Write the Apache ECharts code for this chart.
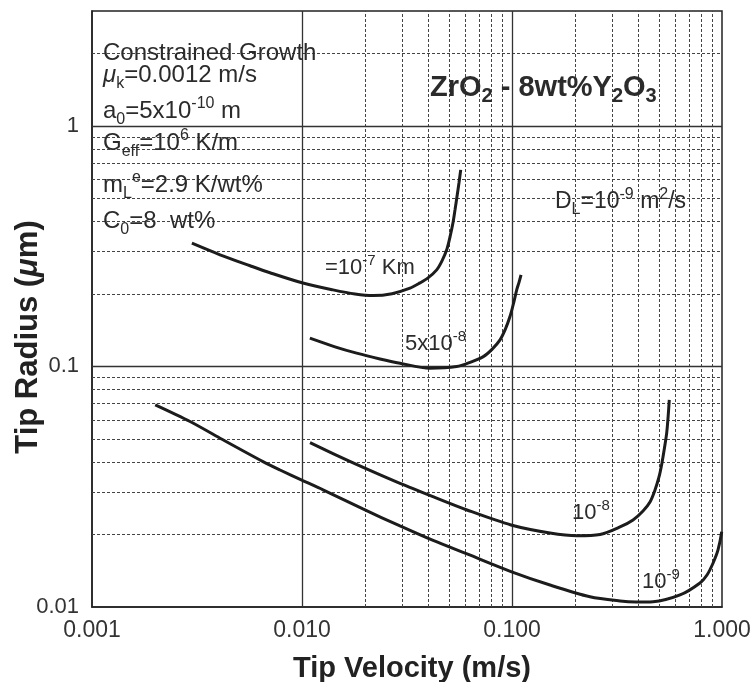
<!DOCTYPE html>
<html><head><meta charset="utf-8">
<script src="https://cdn.jsdelivr.net/npm/echarts@6/dist/echarts.min.js"></script>
<style>html,body{margin:0;padding:0;background:#fff}#c{width:753px;height:682px}</style>
</head><body><div id="c"></div>
<script>
// ---- data (tip velocity m/s, tip radius µm) ----
const v_1e7 = [0.00299, 0.00407, 0.00566, 0.00704, 0.0101, 0.01405, 0.01788, 0.0218, 0.02683, 0.03268, 0.03648, 0.03981, 0.04379, 0.04642, 0.04887, 0.05068, 0.05236, 0.05354, 0.05471, 0.05592, 0.05698];
const r_1e7 = [0.325, 0.291, 0.262, 0.245, 0.222, 0.208, 0.200, 0.197, 0.2006, 0.2114, 0.2224, 0.2333, 0.2519, 0.2747, 0.3051, 0.3455, 0.3951, 0.4474, 0.5082, 0.5794, 0.6561];

const v_5e8 = [0.0109, 0.01436, 0.0182, 0.02351, 0.0293, 0.0407, 0.0545, 0.0631, 0.0730, 0.0803, 0.0877, 0.0931, 0.0978, 0.1017, 0.1053, 0.1080, 0.1104];
const r_5e8 = [0.131, 0.1206, 0.1135, 0.1074, 0.1031, 0.0983, 0.0998, 0.1039, 0.1098, 0.1177, 0.1289, 0.1432, 0.1611, 0.1828, 0.208, 0.2235, 0.2401];

const v_1e8 = [0.01092, 0.01517, 0.02107, 0.02929, 0.04205, 0.06105, 0.0989, 0.1517, 0.204, 0.2624, 0.3268, 0.377, 0.4206, 0.4541, 0.4797, 0.5012, 0.5178, 0.5322, 0.5454, 0.5543, 0.561];
const r_1e8 = [0.0482, 0.04204, 0.03694, 0.03263, 0.02874, 0.02531, 0.02193, 0.02031, 0.01979, 0.02002, 0.02151, 0.0230, 0.02507, 0.02733, 0.03066, 0.03471, 0.0397, 0.04584, 0.0529, 0.06225, 0.0726];

const v_1e9 = [0.0020, 0.00293, 0.00407, 0.00652, 0.00786, 0.0101, 0.01259, 0.0195, 0.02929, 0.0421, 0.0611, 0.0989, 0.1517, 0.2351, 0.3268, 0.3895, 0.4693, 0.631, 0.7855, 0.8483, 0.906, 0.9572, 0.9967];
const r_1e9 = [0.0692, 0.0590, 0.0503, 0.0402, 0.0371, 0.0335, 0.0307, 0.02556, 0.02172, 0.0189, 0.01661, 0.01404, 0.01234, 0.01103, 0.01059, 0.01049, 0.01052, 0.01122, 0.01259, 0.01358, 0.0152, 0.01726, 0.02056];

const xTickLabels = ['0.001', '0.010', '0.100', '1.000'];
const yTickLabels = ['0.01', '0.1', '1'];

const xMajorGrid = [0.01, 0.1];
const xMinorGrid = [0.002,0.003,0.004,0.005,0.006,0.007,0.008,0.009,
                    0.02,0.03,0.04,0.05,0.06,0.07,0.08,0.09,
                    0.2,0.3,0.4,0.5,0.6,0.7,0.8,0.9];
const yMajorGrid = [0.1, 1];
const yMinorGrid = [0.02,0.03,0.04,0.05,0.06,0.07,0.08,0.09,
                    0.2,0.3,0.4,0.5,0.6,0.7,0.8,0.9, 2];

// ---- helpers ----
const zip = (a, b) => a.map((x, i) => [x, b[i]]);
const FONT = 'Liberation Sans, Arial, Helvetica, sans-serif';
const TXT = '#2b2b2b';

function ann(text, x, baseline, size, bold) {
  const lh = size + 8;
  const s = Math.round(size * 0.68);
  const w = bold ? 'bold' : 'normal';
  return {
    type: 'text', x: x, y: baseline - (lh / 2 + 0.35 * size), z: 10, silent: true,
    style: {
      text: text, fontFamily: FONT, fontSize: size, fontWeight: w, fill: TXT,
      lineHeight: lh, verticalAlign: 'top', align: 'left',
      rich: {
        sub: { fontSize: s, lineHeight: s, verticalAlign: 'bottom', fontWeight: w, fontFamily: FONT, fill: TXT },
        sup: { fontSize: s, lineHeight: s, verticalAlign: 'top', fontWeight: w, fontFamily: FONT, fill: TXT },
        mu: { fontSize: size, lineHeight: lh, fontStyle: 'italic', fontFamily: FONT, fill: TXT }
      }
    }
  };
}

const gridLine = (arr, key, style) => arr.map(v => ({ [key]: v, lineStyle: style }));
const majorStyle = { color: '#333', width: 1.3, type: 'solid' };
const minorStyle = { color: '#444', width: 1, type: [3, 2] };

const curveStyle = { color: '#1c1c1c', width: 3 };
function curve(name, v, r) {
  return {
    name: name, type: 'line', data: zip(v, r), showSymbol: false, symbol: 'none',
    smooth: 0.3, lineStyle: curveStyle, z: 5, silent: true
  };
}

const chart = echarts.init(document.getElementById('c'), null, { renderer: 'canvas' });
chart.setOption({
  animation: false,
  backgroundColor: '#fff',
  grid: { left: 92, right: 31, top: 11, bottom: 75, outerBoundsMode: 'none', containLabel: false,
          show: true, borderColor: '#222', borderWidth: 1.5, backgroundColor: 'transparent' },
  xAxis: {
    type: 'log', logBase: 10, min: 0.001, max: 1,
    name: 'Tip Velocity (m/s)', nameLocation: 'middle', nameGap: 47, nameMoveOverlap: false,
    nameTextStyle: { fontFamily: FONT, fontSize: 29, fontWeight: 'bold', color: '#222', padding: [0, 0, 0, 10] },
    axisLine: { show: true, onZero: false, lineStyle: { color: '#222', width: 1.5 } },
    axisTick: { show: false }, splitLine: { show: false }, minorTick: { show: false },
    axisLabel: {
      fontFamily: FONT, fontSize: 23, color: '#333', margin: 12,
      showMinLabel: true, showMaxLabel: true,
      formatter: v => { const l = Math.log10(v), e = Math.round(l); return Math.abs(l - e) < 1e-6 ? (xTickLabels[e + 3] || '') : ''; }
    }
  },
  yAxis: {
    type: 'log', logBase: 10, min: 0.01, max: 3,
    name: 'Tip Radius ({mu|μ}m)', nameLocation: 'middle', nameGap: 48, nameMoveOverlap: false,
    nameTextStyle: { fontFamily: FONT, fontSize: 31, fontWeight: 'bold', color: '#222', padding: [0, 56, 0, 0],
      rich: { mu: { fontFamily: FONT, fontSize: 31, fontWeight: 'bold', fontStyle: 'italic', color: '#222' } } },
    axisLine: { show: true, onZero: false, lineStyle: { color: '#222', width: 1.5 } },
    axisTick: { show: false }, splitLine: { show: false }, minorTick: { show: false },
    axisLabel: {
      fontFamily: FONT, fontSize: 22, color: '#333', margin: 13,
      formatter: v => { const l = Math.log10(v), e = Math.round(l); return Math.abs(l - e) < 1e-6 ? (yTickLabels[e + 2] || '') : ''; }
    }
  },
  series: [
    {
      name: 'grid', type: 'line', data: [[0.001, 0.01]], symbol: 'none', silent: true, z: 1,
      lineStyle: { width: 0 },
      markLine: {
        silent: true, symbol: ['none', 'none'], label: { show: false }, animation: false,
        data: [].concat(
          gridLine(xMinorGrid, 'xAxis', minorStyle),
          gridLine(yMinorGrid, 'yAxis', minorStyle),
          gridLine(xMajorGrid, 'xAxis', majorStyle),
          gridLine(yMajorGrid, 'yAxis', majorStyle)
        )
      }
    },
    curve('=10^-7 Km', v_1e7, r_1e7),
    curve('5x10^-8', v_5e8, r_5e8),
    curve('10^-8', v_1e8, r_1e8),
    curve('10^-9', v_1e9, r_1e9)
  ],
  graphic: [
    ann('Constrained Growth', 103, 62, 24),
    ann('{mu|μ}{sub|k}=0.0012 m/s', 103, 84, 24),
    ann('a{sub|0}=5x10{sup|-10} m', 103, 120, 24),
    ann('G{sub|eff}=10{sup|6} K/m', 103, 152, 24),
    ann('m{sub|L}{sup|e}=2.9 K/wt%', 103, 194, 24),
    ann('C{sub|0}=8  wt%', 103, 230, 24),
    ann('ZrO{sub|2} - 8wt%Y{sub|2}O{sub|3}', 430, 98, 29, true),
    ann('D{sub|L}=10{sup|-9} m{sup|2}/s', 555, 210, 23),
    ann('=10{sup|-7} Km', 325, 276, 22),
    ann('5x10{sup|-8}', 405, 352, 22),
    ann('10{sup|-8}', 572, 521, 22),
    ann('10{sup|-9}', 642, 590, 22)
  ]
});
</script>
</body></html>
